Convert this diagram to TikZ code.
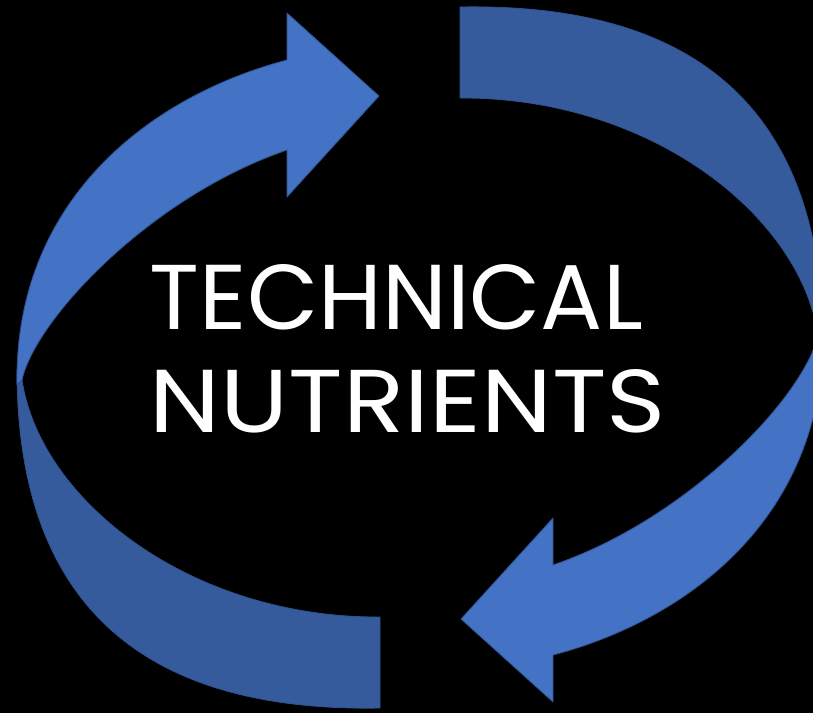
\documentclass[tikz,border=0pt]{standalone}
\usepackage{fontspec}
\usepackage{graphicx}
\newfontfamily\wordfont{Poppins}
\definecolor{arrowfront}{HTML}{4472C4}
\definecolor{arrowback}{HTML}{365B9D}
\definecolor{arrowedge}{HTML}{2F528F}
\begin{document}
\begin{tikzpicture}[x=1pt,y=-1pt,
  frontface/.style={fill=arrowfront,draw=arrowedge,line width=0.8pt,line join=round},
  backface/.style={fill=arrowback,draw=arrowedge,line width=0.8pt,line join=round},
  wordstyle/.style={text=white,inner sep=0pt,font=\wordfont\fontsize{90}{90}\selectfont}]
\fill[black] (0,0) rectangle (813,713);
\useasboundingbox (0,0) rectangle (813,713);
\begin{scope}
  \clip (0,0) rectangle (813,713);
  % left arrow: back face then front face
  \path[backface] (17,370) .. controls (17,620) and (160,712) .. (380,708)
     -- (380,617) .. controls (190,618) and (40,500) .. (22,380) -- cycle;
  \path[frontface] (17,385) .. controls (14,200) and (150,96) .. (287,60)
     -- (287,13) -- (379,96) -- (287,197) -- (287,150)
     .. controls (150,197) and (35,320) .. (22,380) -- cycle;
  % right arrow: the same shape turned half a turn
  \begin{scope}[rotate around={180:(420,357.5)}]
    \path[backface] (17,370) .. controls (17,620) and (160,712) .. (380,708)
       -- (380,617) .. controls (190,618) and (40,500) .. (22,380) -- cycle;
    \path[frontface] (17,385) .. controls (14,200) and (150,96) .. (287,60)
       -- (287,13) -- (379,96) -- (287,197) -- (287,150)
       .. controls (150,197) and (35,320) .. (22,380) -- cycle;
  \end{scope}
\end{scope}
\node[wordstyle] (t1) at (396.5,297.5) {\resizebox{493pt}{65pt}{TECHNICAL}};
\node[wordstyle] (t2) at (408,401.5) {\resizebox{516pt}{63pt}{NUTRIENTS}};
\end{tikzpicture}
\end{document}
